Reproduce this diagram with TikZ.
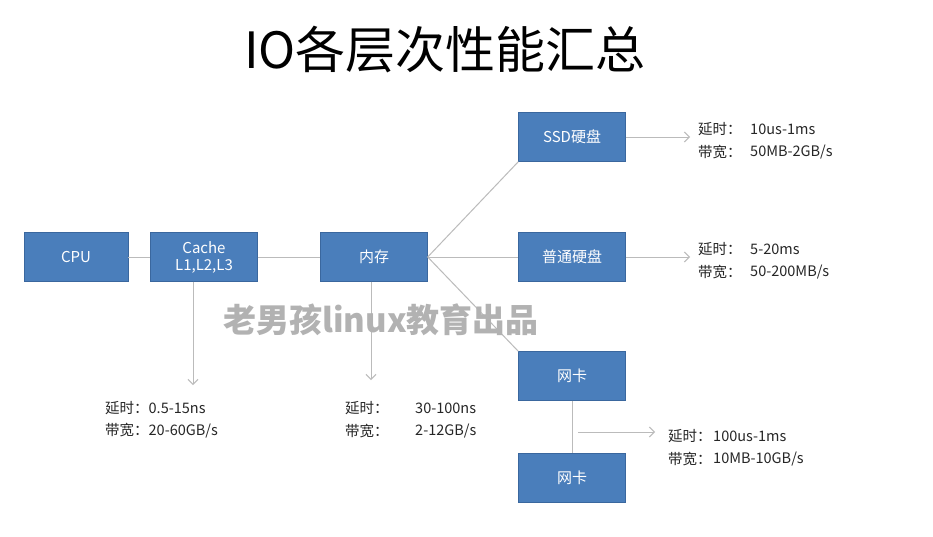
\documentclass[tikz,border=0pt]{standalone}
\usepackage{fontspec}
\setmainfont{Liberation Sans}
\newfontfamily\cjk{Noto Sans CJK SC}
\usetikzlibrary{arrows.meta,positioning}
\definecolor{boxblue}{HTML}{4A7EBB}
\definecolor{boxedge}{HTML}{3A679E}
\definecolor{linegray}{HTML}{BBBBBB}
\tikzset{
  >=Stealth,
  dev/.style={rectangle, draw=boxedge, fill=boxblue, text=white, minimum width=107pt, minimum height=49pt, font=\cjk\fontsize{15}{17}\selectfont, align=center, inner sep=0pt},
  ln/.style={linegray, line width=1pt},
  arr/.style={-{Straight Barb[length=5pt]}, linegray, line width=1pt},
  lbl/.style={anchor=west, font=\cjk\fontsize{14.5}{17}\selectfont, text=black!85, inner sep=0pt}
}
\begin{document}
\begin{tikzpicture}[x=1pt, y=-1pt]
    \useasboundingbox[fill=white] (0,0) rectangle (933,536);
    % title
    \node[font=\cjk\fontsize{50}{52}\selectfont] (title) at (445,50) {IO各层次性能汇总};

    % devices
    \node[dev, minimum width=104pt] (cpu) at (76,257) {CPU};
    \node[dev] (cache) at (204,257) {Cache\\L1,L2,L3};
    \node[dev] (mem) at (374,257) {内存};
    \node[dev] (ssd) at (572,137) {SSD硬盘};
    \node[dev] (hdd) at (572,257) {普通硬盘};
    \node[dev] (nic1) at (572,376) {网卡};
    \node[dev] (nic2) at (572,478) {网卡};

    % links
    \draw[ln] (cpu) -- (cache);
    \draw[ln] (cache) -- (mem);
    \draw[ln] (mem.east) -- (ssd.south west);
    \draw[ln] (mem) -- (hdd);
    \draw[ln] (mem.east) -- (nic1.north west);
    \draw[ln] (nic1) -- (nic2);

    % arrows to figures
    \coordinate (cacheend) at (193,385);
    \coordinate (memend) at (371,380);
    \coordinate (ssdend) at (690,137);
    \coordinate (hddend) at (690,257);
    \coordinate (nicstart) at (578,432);
    \coordinate (nicend) at (655,432);
    \draw[arr] (cache.south -| cacheend) -- (cacheend);
    \draw[arr] (mem.south -| memend) -- (memend);
    \draw[arr] (ssd) -- (ssdend);
    \draw[arr] (hdd) -- (hddend);
    \draw[arr] (nicstart) -- (nicend);

    % figures
    \node[lbl] (ssdlat) at (698,129) {延时：};
    \node[lbl] (ssdbw) at (698,152) {带宽：};
    \node[lbl] at (750,129) {10us-1ms};
    \node[lbl] at (750,152) {50MB-2GB/s};

    \node[lbl] (hddlat) at (698,249) {延时：};
    \node[lbl] (hddbw) at (698,272) {带宽：};
    \node[lbl] at (750,249) {5-20ms};
    \node[lbl] at (750,272) {50-200MB/s};

    \node[lbl] (niclat) at (668,436) {延时：};
    \node[lbl] (nicbw) at (668,459) {带宽：};
    \node[lbl] at (713,436) {100us-1ms};
    \node[lbl] at (713,459) {10MB-10GB/s};

    \node[lbl] (cachelat) at (105,408) {延时：0.5-15ns};
    \node[lbl] (cachebw) at (105,431) {带宽：20-60GB/s};

    \node[lbl] (memlat) at (345,408) {延时：};
    \node[lbl] (membw) at (345,431) {带宽：};
    \node[lbl] at (415,408) {30-100ns};
    \node[lbl] at (415,431) {2-12GB/s};

    % watermark
    \node[font=\cjk\bfseries\fontsize{33}{35}\selectfont, text=black!30] (mark) at (381,320) {老男孩linux教育出品};
\end{tikzpicture}
\end{document}
